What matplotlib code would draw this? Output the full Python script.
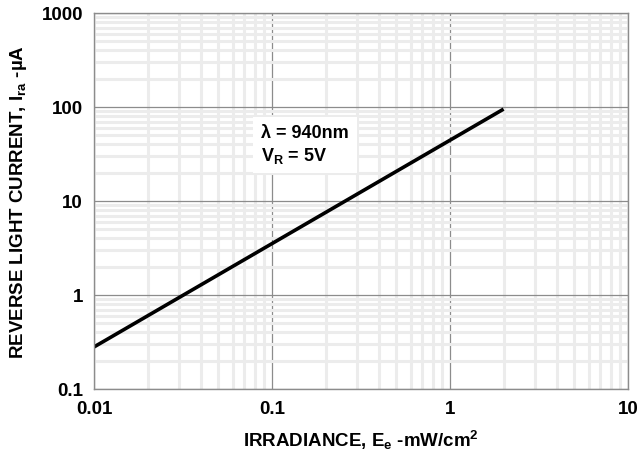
import numpy as np
import matplotlib.pyplot as plt
from matplotlib.ticker import LogLocator, FixedLocator, FixedFormatter

plt.rcParams['font.family'] = ['Liberation Sans', 'DejaVu Sans']
plt.rcParams['font.weight'] = 'bold'
plt.rcParams['mathtext.fontset'] = 'custom'
plt.rcParams['mathtext.rm'] = 'Liberation Sans:bold'
plt.rcParams['mathtext.bf'] = 'Liberation Sans:bold'
plt.rcParams['mathtext.it'] = 'Liberation Sans:bold'

# irradiance (mW/cm2) vs reverse light current (uA)
irradiance = [0.01, 2.0]
current = [0.28, 95]

x_ticks = [0.01, 0.1, 1, 10]
x_labels = ["0.01", "0.1", "1", "10"]
y_ticks = [0.1, 1, 10, 100, 1000]
y_labels = ["0.1", "1", "10", "100", "1000"]

fig = plt.figure(figsize=(6.41, 4.56), dpi=100)
ax = fig.add_axes([94/641, 1-390/456, (628-94)/641, (390-14)/456])

ax.plot(irradiance, current, color="black", linewidth=2.6, solid_capstyle="butt")

ax.set_xscale("log")
ax.set_yscale("log")
ax.set_xlim(0.01, 10)
ax.set_ylim(0.1, 1000)

ax.xaxis.set_major_locator(FixedLocator(x_ticks))
ax.xaxis.set_major_formatter(FixedFormatter(x_labels))
ax.yaxis.set_major_locator(FixedLocator(y_ticks))
ax.yaxis.set_major_formatter(FixedFormatter(y_labels))
ax.xaxis.set_minor_locator(LogLocator(base=10, subs=np.arange(2, 10)))
ax.yaxis.set_minor_locator(LogLocator(base=10, subs=np.arange(2, 10)))

ax.grid(which="minor", color="#ececec", linewidth=2.2, zorder=0)
ax.grid(which="major", color="#8c8c8c", linewidth=0.9, zorder=1)
ax.set_axisbelow(True)
ax.tick_params(which="both", length=0, labelsize=13.5, pad=8)
for lbl in ax.get_xticklabels() + ax.get_yticklabels():
    lbl.set_fontweight("bold")
for s in ax.spines.values():
    s.set_color("#8c8c8c")
    s.set_linewidth(1.0)

ax.set_xlabel("IRRADIANCE, E$_{e}$ -mW/cm$^{2}$", fontsize=13.5, fontweight="bold", labelpad=8)
ax.set_ylabel("REVERSE LIGHT CURRENT, I$_{ra}$ -µA", fontsize=13.5, fontweight="bold", labelpad=9)

ax.text(0.087, 40, "λ = 940nm\nV$_{R}$ = 5V", fontsize=13, fontweight="bold",
        va="center", ha="left", linespacing=1.25,
        bbox=dict(facecolor="white", edgecolor="none", pad=6))

fig.savefig("out.png", dpi=100)
